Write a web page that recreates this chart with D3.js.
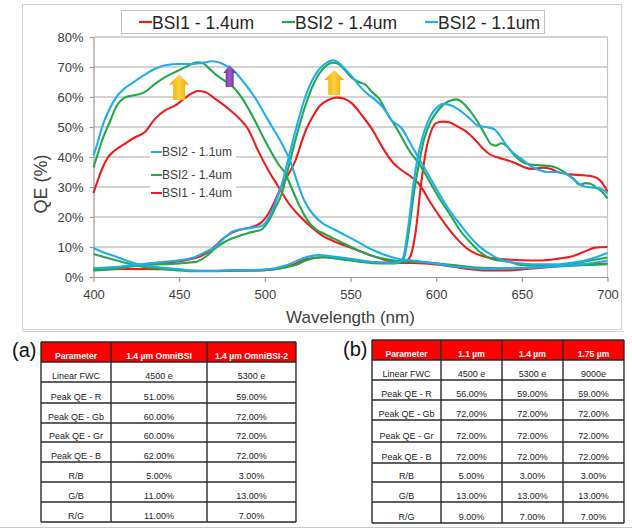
<!DOCTYPE html>
<html>
<head>
<meta charset="utf-8">
<script src="https://cdn.jsdelivr.net/npm/d3@7"></script>
<style>
  html, body { margin: 0; padding: 0; background: #fff; }
  svg { display: block; font-family: "Liberation Sans", Arial, sans-serif; }
</style>
</head>
<body>
<svg id="chart" width="632" height="529"></svg>
<script>
// ── data: QE (%) vs wavelength (nm) ──
const seriesNames = ["BSI1 - 1.4um", "BSI2 - 1.4um", "BSI2 - 1.1um"];
const xTicks = [400, 450, 500, 550, 600, 650, 700];
const yTicks = [0, 10, 20, 30, 40, 50, 60, 70, 80];

// BSI1 - 1.4um
const bsi1Blue = [[400,28],[403,33],[405,36],[408,39.5],[412,42],[418,44.3],[424,46.5],[430,48.3],[436,52.8],[442,55.6],[448,57.3],[452,59],[457,61.1],[461,62],[465,61.7],[471,59.4],[479,56],[486,52.3],[490,49.5],[496,42.2],[502,35.6],[508,30],[514,24.5],[520,20.5],[525,17.7],[530,15.3],[535,13.3],[540,12],[550,9.8],[560,7.6],[570,5.7],[580,4.8],[590,4.6],[600,4.2],[610,3.4],[620,2.6],[630,2.2],[640,2.2],[650,2.5],[660,3],[670,3.5],[680,4],[690,4.3],[700,4.5]];
const bsi1Green = [[400,2.7],[410,3],[420,3.6],[430,4.3],[440,4.8],[448,5.1],[455,5.8],[460,6.4],[466,8],[471,10.3],[476,13],[481,14.8],[486,15.8],[490,16.3],[495,17.2],[498,18.2],[502,21],[506,25.5],[510,30.5],[514,34.5],[518,39],[520,42.5],[524,49],[528,53.5],[532,57],[537,59],[542,59.8],[546,59.5],[551,57.8],[557,53.6],[563,48.9],[568,43.8],[575,38],[580,35.5],[584,34],[590,31],[597,24.5],[605,17.8],[613,12.2],[618,9.5],[623,7.8],[632,6.3],[640,5.9],[650,5.6],[660,5.5],[670,6],[680,7],[686,8.3],[693,9.8],[700,10]];
const bsi1Red = [[400,2.5],[420,2.7],[440,2.6],[460,2.1],[480,2.1],[500,2.3],[510,3],[516,4],[524,5.9],[534,6.6],[544,6.2],[554,5.5],[564,4.9],[574,4.7],[581,4.7],[585,7],[588,15],[591,30],[594,42],[597,48.5],[600,51.3],[604,51.8],[608,51.5],[612,50.3],[617,48.7],[622,46.2],[627,43],[631,41],[636,39.8],[641,39],[646,38],[651,36.7],[656,36],[662,36.4],[667,36],[672,34.8],[678,34.2],[686,33.9],[692,33.4],[696,32],[700,28.5]];

// BSI2 - 1.4um
const bsi2Blue = [[400,36.5],[403,42],[405,45.5],[409,51],[414,57.5],[418,59.7],[422,60.4],[426,60.8],[430,61.7],[436,64.4],[442,66.7],[448,68.4],[453,69.8],[458,71.2],[461,71.6],[464,71.2],[467,69.8],[472,67.2],[477,65.2],[481,63.6],[486,60.2],[492,54.5],[500,45.6],[508,37.5],[512,34.5],[515,30.5],[520,24],[526,18],[530,15.8],[534,14.6],[544,11.8],[554,9],[563,7],[573,5.7],[580,5.2],[590,5],[600,4.6],[610,4],[620,3.3],[630,3],[640,2.9],[650,3],[660,3.2],[670,3.5],[680,3.8],[690,4],[700,4.3]];
const bsi2Green = [[400,2.2],[412,2.7],[424,3.7],[436,4.2],[448,4.4],[455,4.8],[460,5.1],[466,7],[471,9.5],[476,11.5],[481,12.9],[486,13.9],[490,14.6],[495,15.3],[498,15.8],[502,18.5],[506,23],[510,28],[514,37],[518,46],[523,56],[529,65],[535,70],[540,71.4],[543,71],[546,69.4],[551,66.3],[555,65],[559,64],[562,62],[567,59.2],[571,55],[578,48.5],[585,41.5],[590,37.8],[594,34],[601,27],[609,20],[614,15.5],[620,11.5],[625,8.6],[632,6.1],[638,5.4],[643,5],[650,4],[660,3.8],[670,4],[680,4.5],[690,5.5],[700,6.5]];
const bsi2Red = [[400,7.7],[406,6.7],[413,5.6],[419,4.7],[424,4],[430,3.3],[436,2.9],[442,2.6],[448,2.3],[459,1.9],[471,1.9],[483,2.2],[494,2.2],[506,2.7],[512,3.2],[518,4],[524,5.5],[530,6.4],[534,6.6],[540,6.3],[544,5.9],[554,5.2],[563,4.6],[573,4.5],[579,4.8],[581,6],[584,15],[587,28],[590,38],[593,46],[597,52],[601,55.5],[605,57.8],[609,58.9],[612,59.2],[615,58.3],[620,55.2],[625,51],[629,47],[632,44.3],[635,43.8],[638,44.6],[641,43.7],[645,41],[650,38.5],[655,37.5],[661,37.2],[667,36.9],[671,36.2],[676,34.5],[680,32.7],[684,30.7],[687,31.3],[690,31.1],[693,30],[697,28.3],[700,26.2]];

// BSI2 - 1.1um
const bsi2sBlue = [[400,40.5],[402,44],[405,50],[409,55.6],[414,60.5],[418,62.8],[422,64.4],[428,66.7],[436,69.4],[442,70.6],[450,71],[458,71],[463,71.3],[469,71.9],[474,71.4],[478,70.2],[481,69.2],[486,66.1],[494,60],[502,52.2],[510,44.4],[515,38.5],[519,31.5],[523,25.5],[528,21],[534,17.8],[540,16],[545,14.5],[554,11.8],[563,9],[573,6.8],[579,5.9],[585,5.6],[592,5.1],[602,4.3],[612,3.4],[622,2.9],[631,2.7],[643,2.9],[650,3],[660,3.3],[670,3.6],[680,4],[690,4.6],[700,5.5]];
const bsi2sGreen = [[400,2.9],[412,3.3],[428,4.3],[440,5],[448,5.4],[455,6],[459,6.6],[466,8.5],[471,10],[476,12.8],[481,15.1],[485,15.8],[490,16.2],[494,16.6],[498,17],[502,19.5],[506,24.5],[510,31],[514,40],[518,49],[523,59],[529,67],[535,71],[540,72.2],[544,71],[546,69.8],[551,66.7],[556,63.2],[560,61],[564,59.3],[569,56.5],[574,52.2],[580,49.5],[585,44.5],[590,39.5],[596,33.5],[602,27.5],[608,22],[614,17.5],[620,13.2],[625,10.3],[630,8.2],[636,6.2],[643,5],[650,4.5],[660,4.2],[670,4.2],[680,4.8],[690,6],[700,8]];
const bsi2sRed = [[400,9.6],[406,8.2],[413,6.8],[419,5.5],[424,4.6],[430,3.9],[436,3.4],[442,3],[448,2.7],[459,2.1],[471,2],[483,2.3],[494,2.3],[506,2.9],[512,3.8],[518,5.2],[524,6.6],[532,7.3],[540,6.8],[548,6.2],[554,5.7],[563,5],[573,4.8],[579,5.1],[581,7],[584,18],[587,32],[590,42],[593,48.5],[597,54],[601,56.8],[604,57.7],[608,57.3],[612,56.2],[616,54.6],[620,52.6],[625,50.3],[630,49.9],[634,49.2],[637,47.3],[640,44.7],[645,41.3],[650,39.3],[655,37],[660,35.7],[665,35],[670,35],[675,34.5],[680,32.8],[684,30.8],[688,30],[693,29.7],[697,29.2],[700,27.8]];

// arrows on the plot: wavelength, tip QE, base QE
const arrowNotes = [
  { nm: 450, tip: 67.5, base: 59, kind: "gold" },
  { nm: 479.5, tip: 70.7, base: 63.3, kind: "purple" },
  { nm: 540.5, tip: 69, base: 60.7, kind: "gold" }
];

// tables
const tableAHeader = ["Parameter", "1.4 \u00b5m OmniBSI", "1.4 \u00b5m OmniBSI-2"];
const tableARows = [
  ["Linear FWC", "4500 e", "5300 e"],
  ["Peak QE - R", "51.00%", "59.00%"],
  ["Peak QE - Gb", "60.00%", "72.00%"],
  ["Peak QE - Gr", "60.00%", "72.00%"],
  ["Peak QE - B", "62.00%", "72.00%"],
  ["R/B", "5.00%", "3.00%"],
  ["G/B", "11.00%", "13.00%"],
  ["R/G", "11.00%", "7.00%"]
];
const tableBHeader = ["Parameter", "1.1 \u00b5m", "1.4 \u00b5m", "1.75 \u00b5m"];
const tableBRows = [
  ["Linear FWC", "4500 e", "5300 e", "9000e"],
  ["Peak QE - R", "56.00%", "59.00%", "59.00%"],
  ["Peak QE - Gb", "72.00%", "72.00%", "72.00%"],
  ["Peak QE - Gr", "72.00%", "72.00%", "72.00%"],
  ["Peak QE - B", "72.00%", "72.00%", "72.00%"],
  ["R/B", "5.00%", "3.00%", "3.00%"],
  ["G/B", "13.00%", "13.00%", "13.00%"],
  ["R/G", "9.00%", "7.00%", "7.00%"]
];

// ── styles / layout ──
const COL = { red: "#f01c1c", green: "#22a84a", cyan: "#1eaef0" };
const seriesColor = [COL.red, COL.green, COL.cyan];
const curves = [
  { data: bsi1Blue, s: 0 }, { data: bsi1Green, s: 0 }, { data: bsi1Red, s: 0 },
  { data: bsi2Blue, s: 1 }, { data: bsi2Green, s: 1 }, { data: bsi2Red, s: 1 },
  { data: bsi2sBlue, s: 2 }, { data: bsi2sGreen, s: 2 }, { data: bsi2sRed, s: 2 }
];

const svg = d3.select("#chart");
const x = d3.scaleLinear().domain([400, 700]).range([93.5, 607.5]);
const y = d3.scaleLinear().domain([0, 80]).range([277, 37]);

const defs = svg.append("defs");
const gold = defs.append("linearGradient").attr("id", "gold");
[["0%", "#e9a400"], ["50%", "#ffd23c"], ["100%", "#e9a400"]].forEach(s =>
  gold.append("stop").attr("offset", s[0]).attr("stop-color", s[1]));
const purple = defs.append("linearGradient").attr("id", "purple");
[["0%", "#5e2390"], ["50%", "#9a5cc8"], ["100%", "#5e2390"]].forEach(s =>
  purple.append("stop").attr("offset", s[0]).attr("stop-color", s[1]));

// outer chart frame + table frame lines
svg.append("rect").attr("x", 22.5).attr("y", 4.5).attr("width", 599).attr("height", 325)
  .attr("fill", "#fff").attr("stroke", "#d4d4d4");
svg.append("line").attr("x1", 22).attr("x2", 624).attr("y1", 331.5).attr("y2", 331.5)
  .attr("stroke", "#d4d4d4");
svg.append("line").attr("x1", 0).attr("x2", 632).attr("y1", 527.5).attr("y2", 527.5)
  .attr("stroke", "#c8c8c8");

// gridlines
svg.append("g").selectAll("line").data(yTicks.filter(d => d > 0)).join("line")
  .attr("x1", x(400)).attr("x2", x(700))
  .attr("y1", d => y(d)).attr("y2", d => y(d))
  .attr("stroke", "#c4c4c4").attr("stroke-width", 1.4);
svg.append("line").attr("x1", x(700)).attr("x2", x(700)).attr("y1", y(80)).attr("y2", y(0) + 2)
  .attr("stroke", "#c4c4c4").attr("stroke-width", 1.2);

// axes
const xAxis = svg.append("g").attr("transform", `translate(0,${y(0)})`)
  .call(d3.axisBottom(x).tickValues(xTicks).tickSize(5).tickSizeOuter(0).tickPadding(8)
    .tickFormat(d3.format("d")));
const yAxis = svg.append("g").attr("transform", `translate(${x(400)},0)`)
  .call(d3.axisLeft(y).tickValues(yTicks).tickSize(4).tickSizeOuter(0).tickPadding(6)
    .tickFormat(d => d + "%"));
[xAxis, yAxis].forEach(a => {
  a.selectAll("text").attr("fill", "#404040").attr("font-size", 13)
    .attr("font-family", "'Liberation Sans', Arial, sans-serif");
  a.selectAll("line,.domain").attr("stroke", "#9a9a9a").attr("stroke-width", 1.2);
});

svg.append("text").attr("x", (x(400) + x(700)) / 2).attr("y", 323)
  .attr("text-anchor", "middle").attr("font-size", 17).attr("fill", "#404040")
  .text("Wavelength (nm)");
svg.append("text").attr("transform", "translate(47,184) rotate(-90)")
  .attr("text-anchor", "middle").attr("font-size", 18).attr("fill", "#404040")
  .text("QE (%)");

// curves
const line = d3.line().x(d => x(d[0])).y(d => y(d[1])).curve(d3.curveMonotoneX);
svg.append("g").selectAll("path").data(curves).join("path")
  .attr("d", d => line(d.data))
  .attr("fill", "none").attr("stroke", d => seriesColor[d.s])
  .attr("stroke-width", 2.1).attr("stroke-linejoin", "round");

// arrows
function arrowPath(cx, yt, yb, hw, sw, hh) {
  return `M${cx},${yt}L${cx + hw / 2},${yt + hh}L${cx + sw / 2},${yt + hh}L${cx + sw / 2},${yb}` +
    `L${cx - sw / 2},${yb}L${cx - sw / 2},${yt + hh}L${cx - hw / 2},${yt + hh}Z`;
}
svg.append("g").selectAll("path").data(arrowNotes).join("path")
  .attr("d", d => d.kind === "gold"
    ? arrowPath(x(d.nm), y(d.tip), y(d.base), 20, 12, 10)
    : arrowPath(x(d.nm), y(d.tip), y(d.base), 13, 8, 8))
  .attr("fill", d => `url(#${d.kind})`);

// inner legend
const inner = [[2, 152], [1, 175], [0, 193]];
inner.forEach(([s, yy]) => {
  svg.append("rect").attr("x", 150).attr("y", yy - 7).attr("width", 86).attr("height", 14)
    .attr("fill", "#fff");
  svg.append("line").attr("x1", 151).attr("x2", 162).attr("y1", yy).attr("y2", yy)
    .attr("stroke", seriesColor[s]).attr("stroke-width", 2);
  svg.append("text").attr("x", 162).attr("y", yy + 4.3).attr("font-size", 12)
    .attr("fill", "#404040").text(seriesNames[s]);
});

// top legend
svg.append("rect").attr("x", 121.5).attr("y", 10.5).attr("width", 423).attr("height", 23)
  .attr("fill", "#fff").attr("stroke", "#c0c0c0");
seriesNames.forEach((name, i) => {
  const lx = 139 + i * 143;
  svg.append("line").attr("x1", lx).attr("x2", lx + 13).attr("y1", 22).attr("y2", 22)
    .attr("stroke", seriesColor[i]).attr("stroke-width", 2.2);
  svg.append("text").attr("x", lx + 13).attr("y", 28.5).attr("font-size", 17.5)
    .attr("fill", "#262626").text(name);
});

// tables
function drawTable(header, rows, colX, rowY) {
  const g = svg.append("g");
  g.append("rect").attr("x", colX[0]).attr("y", rowY[0])
    .attr("width", colX[colX.length - 1] - colX[0]).attr("height", rowY[1] - rowY[0])
    .attr("fill", "#ff0000");
  const all = [header].concat(rows);
  all.forEach((r, ri) => {
    r.forEach((cell, ci) => {
      g.append("text").attr("x", (colX[ci] + colX[ci + 1]) / 2).attr("y", rowY[ri + 1] - 2.6)
        .attr("text-anchor", "middle")
        .attr("font-size", ri === 0 ? 8.6 : 9)
        .attr("font-weight", ri === 0 ? "bold" : "normal")
        .attr("fill", ri === 0 ? "#fff" : "#222").text(cell);
    });
  });
  g.selectAll(".h").data(rowY).join("line")
    .attr("x1", colX[0]).attr("x2", colX[colX.length - 1])
    .attr("y1", d => d).attr("y2", d => d)
    .attr("stroke", "#2a2a2a").attr("stroke-width", 1.4);
  g.selectAll(".v").data(colX).join("line")
    .attr("y1", rowY[0]).attr("y2", rowY[rowY.length - 1])
    .attr("x1", d => d).attr("x2", d => d)
    .attr("stroke", "#2a2a2a").attr("stroke-width", 1.4);
}
drawTable(tableAHeader, tableARows, [41, 111, 207, 296], [342, 362, 382, 403, 423, 442, 462, 482, 502, 522]);
drawTable(tableBHeader, tableBRows, [372, 441, 502, 563, 624], [340, 360, 380, 400, 420, 442, 463, 482, 502, 523]);

svg.append("text").attr("x", 12).attr("y", 357).attr("font-size", 20).attr("fill", "#111").text("(a)");
svg.append("text").attr("x", 343).attr("y", 356).attr("font-size", 20).attr("fill", "#111").text("(b)");
</script>
</body>
</html>
